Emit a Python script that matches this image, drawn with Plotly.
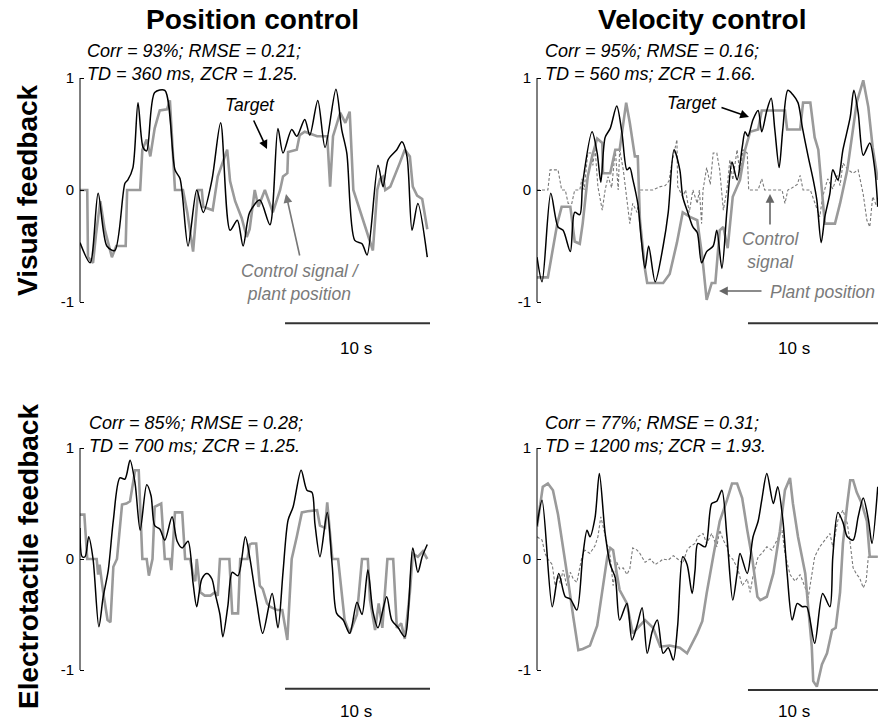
import plotly.graph_objects as go

# ---------------- data (time in s, normalized position) ----------------
tl_target = [(0, -0.47), (0.7, -0.65), (1.25, -0.03), (1.85, -0.5), (2.4, -0.54), (3.1, 0.06), (3.3, 0.09),
             (3.65, 0.2), (4.0, 0.78), (4.35, 0.38), (4.6, 0.35), (5.15, 0.87), (5.85, 0.89), (6.55, 0.18),
             (6.9, 0.1), (7.45, -0.5), (8.05, 0.0), (8.5, -0.2), (9.1, 0.09), (9.7, 0.6), (10.35, -0.36),
             (10.85, -0.27), (11.25, -0.5), (11.7, -0.2), (12.4, -0.09), (13.1, -0.31), (13.65, 0.55),
             (14.0, 0.33), (14.6, 0.54), (14.95, 0.48), (15.5, 0.63), (15.85, 0.49), (16.4, 0.8), (16.9, 0.38),
             (17.65, 0.9), (18.05, 0.54), (18.4, 0.33), (18.95, -0.45), (19.45, -0.48), (19.8, -0.58),
             (20.55, 0.22), (20.9, 0.03), (21.25, 0.27), (21.85, 0.36), (22.2, 0.43), (22.55, 0.3),
             (22.9, -0.36), (23.3, -0.12), (23.95, -0.6)]
tl_control = [(0, 0), (0.5, 0), (0.55, -0.6), (0.9, -0.65), (1.1, -0.4), (1.4, -0.1), (1.7, -0.35), (2.2, -0.6),
              (2.5, -0.5), (3.15, -0.5), (3.25, 0), (4.15, 0), (4.3, 0.36), (4.6, 0.45), (4.85, 0.3), (5.15, 0.55),
              (5.5, 0.71), (6.0, 0.72), (6.2, 0.8), (6.55, 0), (7.1, 0), (7.4, -0.2), (7.8, -0.55), (8.15, 0),
              (8.4, 0), (8.5, -0.15), (9.15, -0.18), (9.5, 0.12), (10.15, 0.36), (10.35, 0.08), (10.7, -0.1),
              (11.15, -0.25), (11.5, -0.42), (11.7, -0.35), (12.05, 0), (12.3, -0.15), (12.75, 0), (13.3, -0.2),
              (13.8, 0), (14.0, 0.12), (14.3, 0.15), (14.35, 0.34), (14.95, 0.36), (15.15, 0.49), (15.5, 0.52),
              (16.35, 0.48), (17.05, 0.48), (17.25, 0.03), (17.45, 0.48), (17.95, 0.69), (18.3, 0.6), (18.6, 0.7),
              (18.85, 0), (19.1, -0.1), (19.5, -0.27), (19.85, -0.4), (20.2, -0.54), (20.5, 0), (20.7, 0.1),
              (20.9, 0.12), (21.05, 0), (21.4, 0.03), (21.6, 0.1), (22.05, 0.24), (22.4, 0.36), (22.75, 0.3),
              (22.95, 0.03), (23.25, -0.05), (23.6, -0.08), (23.95, -0.35)]

tr_target = [(0, -0.6), (0.35, -0.82), (0.95, -0.03), (1.45, -0.33), (1.8, -0.36), (2.3, -0.55), (2.6, -0.2),
             (2.95, -0.22), (3.15, 0.06), (3.8, 0.52), (4.15, 0.33), (4.4, 0.07), (4.7, 0.47), (5.05, 0.55),
             (5.5, 0.75), (5.85, 0.52), (6.2, 0.18), (6.4, 0.2), (6.6, 0.1), (6.95, -0.12), (7.2, -0.45),
             (7.45, -0.7), (7.7, -0.5), (8.15, -0.82), (8.7, -0.5), (9.05, -0.2), (9.45, 0.36), (9.85, 0.18),
             (10.05, -0.06), (10.4, -0.2), (10.75, -0.33), (11.05, -0.38), (11.35, -0.65), (11.7, -0.55),
             (12.15, -0.5), (12.4, -0.36), (12.75, -0.7), (13.1, -0.18), (13.45, 0.25), (13.8, 0.09),
             (14.15, 0.38), (14.35, 0.52), (14.55, 0.48), (14.9, 0.63), (15.25, 0.71), (15.5, 0.52),
             (15.85, 0.71), (16.15, 0.82), (16.4, 0.54), (16.7, 0.2), (16.95, 0.54), (17.3, 0.89), (17.65, 0.85),
             (18.0, 0.78), (18.3, 0.56), (18.7, 0.3), (19.05, 0.09), (19.3, -0.09), (19.6, -0.47), (19.85, -0.24),
             (20.2, -0.03), (20.4, 0.18), (20.75, 0.09), (21.1, 0.36), (21.6, 0.65), (21.85, 0.89), (22.15, 0.69),
             (22.5, 0.31), (22.95, 0.42), (23.3, 0.18), (23.5, -0.15)]
tr_plant = [(0, -0.78), (0.75, -0.78), (1.4, -0.3), (1.7, -0.15), (2.3, -0.15), (2.6, -0.46), (2.95, -0.48),
            (3.15, -0.3), (3.5, 0.12), (3.8, 0.3), (4.15, 0.46), (4.5, 0.42), (4.55, 0.15), (5.05, 0.15),
            (5.4, 0.36), (5.7, 0.36), (6.15, 0.78), (6.4, 0.6), (6.75, 0.3), (6.95, 0.3), (7.1, -0.27),
            (7.45, -0.71), (7.6, -0.83), (8.7, -0.83), (9.15, -0.75), (9.65, -0.47), (10.05, -0.2), (10.55, -0.24),
            (11.05, -0.27), (11.4, -0.6), (11.7, -0.98), (12.05, -0.83), (12.3, -0.83), (12.6, -0.36),
            (12.85, -0.33), (13.15, -0.52), (13.5, -0.06), (14.0, 0.09), (14.35, 0.36), (14.7, 0.52),
            (15.25, 0.54), (15.5, 0.71), (17.1, 0.71), (17.25, 0.54), (18.15, 0.54), (18.35, 0.78), (18.85, 0.78),
            (19.15, 0.47), (19.4, 0.36), (19.65, 0.03), (19.85, -0.3), (20.55, -0.3), (20.9, -0.12), (21.4, 0.18),
            (21.7, 0.47), (22.05, 0.78), (22.5, 0.98), (22.85, 0.74), (23.15, 0.38), (23.5, 0.09)]
tr_control = [(0, 0), (0.75, 0), (0.9, 0.18), (1.45, 0.18), (1.7, 0), (1.95, 0), (2.15, -0.12), (2.4, -0.12),
              (2.6, 0), (2.95, 0), (3.1, 0.1), (3.25, 0), (3.5, 0.33), (3.8, 0.33), (3.85, 0.22), (4.0, 0.38),
              (4.2, 0.03), (4.5, -0.18), (4.7, 0), (4.9, 0.12), (5.15, 0.02), (5.4, 0.36), (5.6, 0), (5.7, 0.36),
              (5.95, 0.18), (6.2, -0.09), (6.4, -0.3), (6.6, -0.12), (6.9, -0.2), (7.1, 0), (8.0, 0), (8.5, 0.03),
              (8.85, 0.04), (9.1, 0.08), (9.3, 0.24), (9.65, 0.45), (9.7, 0.03), (10.05, -0.06), (10.25, 0),
              (10.5, -0.2), (10.75, 0), (11.05, -0.12), (11.2, 0), (11.35, -0.3), (11.45, 0), (11.7, 0.2),
              (11.95, 0.05), (12.15, 0.33), (12.4, 0.33), (12.6, 0.18), (12.85, -0.18), (13.1, 0), (13.3, 0.27),
              (13.5, 0.09), (13.8, 0.36), (14.0, 0.13), (14.2, 0.36), (14.5, 0.33), (14.6, 0), (15.25, 0),
              (15.5, 0.1), (15.7, 0), (16.9, 0), (17.1, -0.12), (17.3, 0), (17.6, 0.02), (17.95, 0.05),
              (18.15, 0.13), (18.35, 0), (18.85, 0), (19.15, -0.12), (19.5, -0.24), (19.7, -0.06), (20.05, 0.1),
              (20.4, 0.01), (20.7, 0.13), (20.9, 0.04), (21.1, 0.24), (21.45, 0.18), (21.8, 0.15), (22.15, 0.18),
              (22.5, -0.04), (22.75, -0.27), (22.95, -0.33), (23.15, -0.06), (23.45, -0.15)]

bl_target = [(0, 0.28), (0.15, 0.02), (0.35, 0.02), (0.6, 0.2), (0.9, 0), (1.3, -0.61), (1.6, -0.34), (1.95, -0.1),
             (2.3, 0.35), (2.75, 0.73), (3.1, 0.72), (3.45, 0.89), (3.8, 0.68), (4.15, 0.26), (4.6, 0.67),
             (4.9, 0.57), (5.15, 0.3), (5.5, 0.27), (5.85, 0.17), (6.35, 0.38), (6.7, 0.16), (7.05, 0.1),
             (7.45, 0.16), (7.8, -0.22), (8.05, -0.43), (8.4, -0.18), (8.75, -0.13), (9.1, -0.18), (9.3, -0.3),
             (9.65, -0.5), (9.85, -0.7), (10.2, -0.42), (10.5, -0.12), (10.9, -0.15), (11.4, 0.2), (11.7, 0.02),
             (12.2, -0.4), (12.6, -0.67), (13.25, -0.31), (13.65, -0.62), (14.0, -0.12), (14.35, 0.35),
             (14.7, 0.47), (15.25, 0.8), (15.65, 0.62), (16.0, 0.6), (16.2, 0.32), (16.55, 0.02), (17.05, 0.42),
             (17.4, -0.07), (17.7, -0.49), (18.15, -0.55), (18.6, -0.67), (19.1, -0.39), (19.45, -0.5),
             (19.85, -0.1), (20.2, -0.47), (20.55, -0.62), (21.15, -0.34), (21.5, -0.55), (21.95, -0.62),
             (22.4, -0.7), (22.95, 0.1), (23.3, -0.12), (23.6, 0.02), (23.95, 0.13)]
bl_control = [(0, 0.4), (0.3, 0.4), (0.5, 0), (1.15, 0), (1.25, -0.14), (1.35, -0.05), (1.6, -0.3), (1.9, -0.55),
              (2.1, -0.57), (2.3, -0.07), (2.55, 0), (2.7, 0.2), (2.9, 0.49), (3.2, 0.5), (3.45, 0.52), (3.8, 0.8),
              (4.05, 0.8), (4.3, 0), (4.6, 0), (4.75, -0.15), (5.0, 0), (5.15, 0.47), (5.6, 0.5), (5.85, 0),
              (6.2, 0), (6.3, -0.1), (6.55, 0.42), (7.05, 0.42), (7.25, 0), (7.6, 0), (7.8, -0.15), (7.95, -0.2),
              (8.05, 0), (8.3, -0.3), (8.6, -0.33), (9.0, -0.33), (9.3, -0.3), (9.5, -0.33), (9.65, 0), (10.3, 0),
              (10.5, -0.49), (10.9, -0.49), (11.05, 0), (11.55, 0), (11.7, 0.13), (11.85, 0.14), (12.15, 0.14),
              (12.4, -0.24), (12.6, -0.27), (12.9, -0.4), (13.1, -0.43), (13.6, -0.46), (13.95, -0.46),
              (14.3, -0.73), (14.6, 0), (14.95, 0.2), (15.3, 0.42), (15.7, 0.43), (16.35, 0.44), (16.55, 0.3),
              (16.9, 0.28), (17.05, 0.51), (17.4, 0), (17.8, 0), (18.05, -0.3), (18.25, -0.55), (18.6, -0.67),
              (19.1, -0.5), (19.45, 0), (19.85, 0), (20.0, -0.37), (20.35, -0.64), (20.6, -0.4), (20.85, -0.62),
              (21.2, 0), (21.6, 0), (21.85, -0.62), (22.15, -0.58), (22.4, -0.72), (22.75, -0.3), (22.95, 0.05),
              (23.3, 0.02), (23.65, 0.07), (23.95, 0)]

br_target = [(0, 0.3), (0.35, 0.53), (1.05, -0.43), (1.5, -0.13), (1.95, -0.34), (2.3, -0.36), (2.75, -0.46),
             (3.15, 0.02), (3.45, 0.26), (3.65, 0.2), (4.0, 0.37), (4.3, 0.77), (4.7, 0.23), (5.05, -0.05),
             (5.4, -0.17), (5.7, -0.55), (6.2, -0.4), (6.55, -0.73), (6.9, -0.6), (7.25, -0.44), (7.6, -0.85),
             (7.95, -0.65), (8.3, -0.55), (8.7, -0.85), (9.05, -0.8), (9.4, -0.91), (9.7, -0.6), (10.05, 0.02),
             (10.35, -0.05), (10.7, -0.31), (10.9, -0.1), (11.1, 0.14), (11.6, 0.11), (12.05, 0.5), (12.4, 0.52),
             (12.75, 0.62), (13.1, 0.2), (13.5, -0.37), (13.8, -0.13), (14.0, 0.05), (14.5, -0.13), (14.9, 0.2),
             (15.25, 0.34), (15.5, 0.53), (15.85, 0.77), (16.3, 0.5), (16.6, 0.65), (16.95, 0.36), (17.25, -0.13),
             (17.6, -0.55), (17.95, -0.4), (18.3, -0.43), (18.6, -0.43), (19.15, -0.76), (19.7, -0.31),
             (20.2, -0.43), (20.4, 0.02), (20.75, 0.42), (21.1, 0.33), (21.4, 0.2), (21.8, 0.17), (22.15, 0.38),
             (22.5, 0.55), (22.85, 0.36), (23.1, 0.14), (23.5, 0.65)]
br_plant = [(0, 0.29), (0.4, 0.65), (0.75, 0.68), (1.1, 0.62), (1.45, 0.4), (1.8, 0.11), (2.15, -0.2), (2.5, -0.52),
            (2.85, -0.82), (3.15, -0.81), (3.65, -0.78), (4.15, -0.6), (4.5, -0.27), (4.85, 0.02), (5.05, 0.1),
            (5.25, 0.08), (5.5, -0.13), (5.7, -0.28), (6.2, -0.4), (6.6, -0.67), (6.95, -0.62), (7.45, -0.55),
            (8.0, -0.62), (8.5, -0.79), (9.15, -0.78), (9.85, -0.8), (10.35, -0.85), (11.05, -0.67), (11.4, -0.56),
            (11.7, -0.31), (12.15, 0.02), (12.6, 0.34), (13.1, 0.53), (13.45, 0.68), (13.8, 0.68), (14.15, 0.55),
            (14.5, 0.26), (14.85, 0), (15.2, -0.34), (15.4, -0.37), (15.85, -0.34), (16.3, -0.13), (16.75, 0.25),
            (17.1, 0.62), (17.45, 0.73), (17.65, 0.5), (18.0, 0.2), (18.5, -0.13), (18.7, -0.43), (18.95, -0.79),
            (19.05, -1.1), (19.3, -1.15), (19.65, -0.95), (20.0, -0.85), (20.35, -0.64), (20.6, -0.62),
            (20.9, -0.3), (21.1, 0.14), (21.4, 0.5), (21.6, 0.71), (21.8, 0.71), (22.05, 0.6), (22.4, 0.5),
            (22.75, 0.34), (22.95, 0.02), (23.5, 0.02)]
br_control = [(0, 0.2), (0.35, 0.17), (0.55, 0.05), (0.75, 0.0), (1.05, -0.05), (1.25, -0.24), (1.45, -0.15),
              (1.6, -0.22), (1.8, -0.1), (2.05, -0.24), (2.3, -0.12), (2.5, -0.18), (2.75, -0.21), (3.1, 0.02),
              (3.3, 0.08), (3.65, 0.05), (4.0, 0.12), (4.2, 0.2), (4.4, 0.38), (4.55, 0.29), (4.85, 0.14),
              (5.05, 0.02), (5.25, -0.24), (5.5, -0.03), (5.7, -0.09), (5.95, -0.08), (6.2, -0.14), (6.4, -0.09),
              (6.6, 0.1), (6.9, 0.08), (7.1, 0.05), (7.45, -0.03), (7.8, 0.0), (8.15, -0.05), (8.5, -0.02),
              (8.7, 0.0), (9.05, -0.01), (9.4, 0.03), (9.7, 0.0), (10.05, -0.04), (10.35, 0.08), (10.55, 0.11),
              (10.9, 0.14), (11.1, 0.2), (11.45, 0.23), (11.7, 0.14), (12.05, 0.23), (12.4, 0.11), (12.6, 0.26),
              (12.85, 0.17), (13.1, 0.11), (13.3, 0.02), (13.5, 0.0), (13.85, -0.09), (14.15, -0.24), (14.5, -0.18),
              (14.7, -0.3), (14.9, -0.15), (15.25, 0.02), (15.5, 0.05), (15.85, 0.11), (16.2, 0.08), (16.55, 0.17),
              (16.9, 0.26), (17.1, 0.05), (17.45, -0.14), (17.8, -0.2), (18.15, -0.14), (18.5, -0.26),
              (18.7, -0.35), (19.15, 0.02), (19.5, 0.11), (19.85, 0.17), (20.2, 0.23), (20.4, 0.11), (20.75, 0.35),
              (21.1, 0.44), (21.4, 0.32), (21.6, 0.14), (21.8, -0.08), (22.05, -0.14), (22.25, -0.17),
              (22.5, -0.26), (22.7, -0.2), (22.85, 0.02), (23.5, 0.02)]

col_titles = ["Position control", "Velocity control"]
row_titles = ["Visual feedback", "Electrotactile feedback"]
stats = [["Corr = 93%; RMSE = 0.21;", "TD = 360 ms, ZCR = 1.25."],
         ["Corr = 95%; RMSE = 0.16;", "TD = 560 ms; ZCR = 1.66."],
         ["Corr = 85%; RMSE = 0.28;", "TD = 700 ms; ZCR = 1.25."],
         ["Corr = 77%; RMSE = 0.31;", "TD = 1200 ms; ZCR = 1.93."]]
ytick_vals = [-1, 0, 1]
ytick_text = ["-1", "0", "1"]
scale_len_s = 10

# ---------------- layout helpers ----------------
W, H = 878, 722
FONT = "Liberation Sans, Arial, sans-serif"
def X(px):
    return px / W
def Y(py):
    return 1 - py / H

BLACK = "#000000"
GREY = "#9a9a9a"
DGREY = "#7a7a7a"

fig = go.Figure()

def add(series, axis, color, width, dash=None, shape="linear"):
    t, v = zip(*series)
    fig.add_trace(go.Scatter(x=list(t), y=list(v), mode="lines", xaxis="x" + axis, yaxis="y" + axis,
                             line=dict(color=color, width=width, dash=dash, shape=shape,
                                       smoothing=0.8 if shape == "spline" else None),
                             hoverinfo="skip", showlegend=False))

# axis ids: "" top-left, "2" top-right, "3" bottom-left, "4" bottom-right
add(tl_control, "", GREY, 2.6)
add(tl_target, "", BLACK, 1.5, shape="spline")
add(tr_control, "2", DGREY, 1.1, dash="3px,2px")
add(tr_plant, "2", GREY, 2.6)
add(tr_target, "2", BLACK, 1.5, shape="spline")
add(bl_control, "3", GREY, 2.6)
add(bl_target, "3", BLACK, 1.5, shape="spline")
add(br_control, "4", DGREY, 1.1, dash="3px,2px")
add(br_plant, "4", GREY, 2.6)
add(br_target, "4", BLACK, 1.5, shape="spline")

# panel geometry (pixels): left edge, right edge, y-zero, px per unit
panels = {"": (80, 430, 190, 112), "2": (537, 878, 190, 112),
          "3": (80, 430, 559, 111), "4": (537, 878, 559, 111)}
PXS = 14.5  # pixels per second
YR = 1.3
layout = {}
for k, (x0, x1, y0, ppu) in panels.items():
    xr = (x1 - x0) / PXS
    layout["xaxis" + k] = dict(domain=[X(x0), X(x1)], range=[0, xr], visible=False,
                               anchor="y" + k, fixedrange=True)
    layout["yaxis" + k] = dict(domain=[Y(y0 + YR * ppu), Y(y0 - YR * ppu)], range=[-YR, YR],
                               anchor="x" + k, showgrid=False, zeroline=False, showline=False,
                               tickvals=ytick_vals, ticktext=ytick_text, ticks="inside", ticklen=4,
                               tickcolor="#000", tickfont=dict(family=FONT, size=15, color="#000"),
                               ticklabelstandoff=5, fixedrange=True)
fig.update_layout(**layout)

shapes = []
for k, (x0, x1, y0, ppu) in panels.items():
    shapes.append(dict(type="line", xref=("x" + k) + " domain", yref="y" + k, x0=0, x1=0, y0=-1, y1=1,
                       line=dict(color="#000", width=1)))
# scale bars (10 s) -- left panels end at the panel end; right panels start at 14.55 s
bars = {"": (24.14 - scale_len_s, -1.19), "2": (14.55, -1.19), "3": (24.14 - scale_len_s, -1.17), "4": (14.55, -1.18)}
for k, (bx0, by) in bars.items():
    shapes.append(dict(type="line", xref="x" + k, yref="y" + k, x0=bx0, x1=bx0 + scale_len_s, y0=by, y1=by,
                       line=dict(color="#333", width=2)))
fig.update_layout(shapes=shapes)

ann = []
def text(t, px, py, size, color="#000", **kw):
    d = dict(text=t, x=X(px), y=Y(py), xref="paper", yref="paper", showarrow=False,
             xanchor="center", yanchor="middle", font=dict(family=FONT, size=size, color=color))
    d.update(kw)
    ann.append(d)

# column titles
for txt, cx in zip(col_titles, [252, 702]):
    text("<b>" + txt + "</b>", cx, 20, 28)
# row titles
for txt, cy in zip(row_titles, [190, 557]):
    text("<b>" + txt + "</b>", 28, cy, 28, textangle=-90)
# statistics
for (l1, l2), (sx, sy) in zip(stats, [(85, 62.5), (543, 62.5), (87, 434), (543, 434)]):
    text("<i>" + l1 + "<br>" + l2 + "</i>", sx, sy, 18, xanchor="left", align="left")
# 10 s labels
for lx, ly in [(356, 348), (794, 348), (356, 711), (794, 711)]:
    text("10 s", lx, ly, 17)
# labels
labels = [("Target", 250, 105, "#000"), ("Control signal /<br>plant position", 300, 282, DGREY),
          ("Target", 692, 103, "#000"), ("Control<br>signal", 771, 250, DGREY),
          ("Plant position", 822, 292, DGREY)]
for txt, lx, ly, c in labels:
    text("<i>" + txt + "</i>", lx, ly, 17.5, c)
# arrows: head (px), tail (px)
arrows = [((267, 149), (253, 119), "#000"), ((286, 194), (300, 257), "#777"),
          ((749, 117), (720, 107), "#000"), ((770, 194), (770, 226), "#666"), ((719, 291), (763, 291), "#666")]
for (hx, hy), (tx, ty), c in arrows:
    ann.append(dict(text="", x=X(hx), y=Y(hy), xref="paper", yref="paper", showarrow=True,
                    ax=tx - hx, ay=ty - hy, axref="pixel", ayref="pixel", arrowhead=2, arrowsize=1.1,
                    arrowwidth=1.6, arrowcolor=c, standoff=0, startstandoff=0))
fig.update_layout(annotations=ann)

fig.update_layout(width=W, height=H, margin=dict(l=0, r=0, t=0, b=0), paper_bgcolor="white",
                  plot_bgcolor="white", showlegend=False, font=dict(family=FONT))
fig.write_html("out.html", config={"displayModeBar": False, "staticPlot": True},
               post_script="document.body.style.margin='0';document.body.style.overflow='hidden';")
